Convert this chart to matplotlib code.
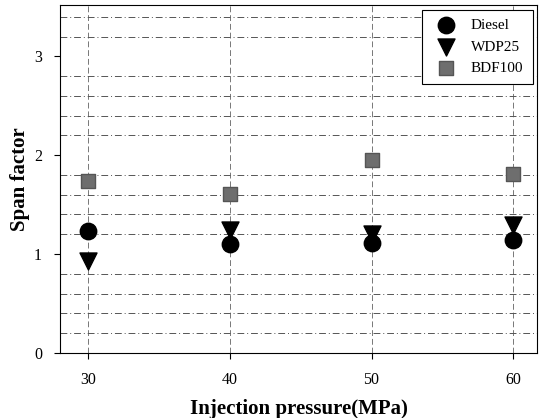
import matplotlib
matplotlib.use('Agg')
import matplotlib.pyplot as plt

plt.rcParams['font.family'] = ['Liberation Serif', 'DejaVu Serif']

pressure = [30, 40, 50, 60]
diesel = [1.23, 1.10, 1.11, 1.14]
wdp25 = [0.93, 1.24, 1.20, 1.29]
bdf100 = [1.74, 1.61, 1.95, 1.81]

fig = plt.figure(figsize=(5.42, 4.18), dpi=100)
ax = fig.add_axes([0.111, 0.156, 0.880, 0.832])

ax.scatter(pressure, diesel, marker='o', s=140, color='black', label='Diesel', zorder=3)
ax.scatter(pressure, wdp25, marker='v', s=150, color='black', label='WDP25', zorder=3)
ax.scatter(pressure, bdf100, marker='s', s=95, color='#6e6e6e', edgecolor='#555555',
           label='BDF100', zorder=3)

ax.set_xlim(28, 61.7)
ax.set_ylim(0, 3.52)
ax.set_xticks(pressure)
ax.set_yticks([0, 1, 2, 3])
ax.set_yticks([i * 0.2 for i in range(18)], minor=True)
ax.tick_params(axis='y', which='minor', length=0)
ax.tick_params(axis='both', labelsize=11.5, direction='out', length=4)
ax.tick_params(axis='x', pad=10)
ax.tick_params(axis='y', pad=9)

ax.grid(True, which='major', axis='x', color='#777777', ls=(0, (6, 3)), lw=0.7)
ax.grid(True, which='minor', axis='y', color='#555555', ls=(0, (7, 3, 1, 3)), lw=0.7)

ax.set_xlabel('Injection pressure(MPa)', fontsize=15, fontweight='bold', labelpad=8)
ax.set_ylabel('Span factor', fontsize=15, fontweight='bold', labelpad=3)

leg = ax.legend(loc='upper right', fontsize=11, frameon=True, fancybox=False,
                edgecolor='black', framealpha=1, borderpad=0.6, labelspacing=0.5,
                handletextpad=0.6, borderaxespad=0.3)
leg.get_frame().set_linewidth(0.8)

fig.savefig('out.png', dpi=100)
